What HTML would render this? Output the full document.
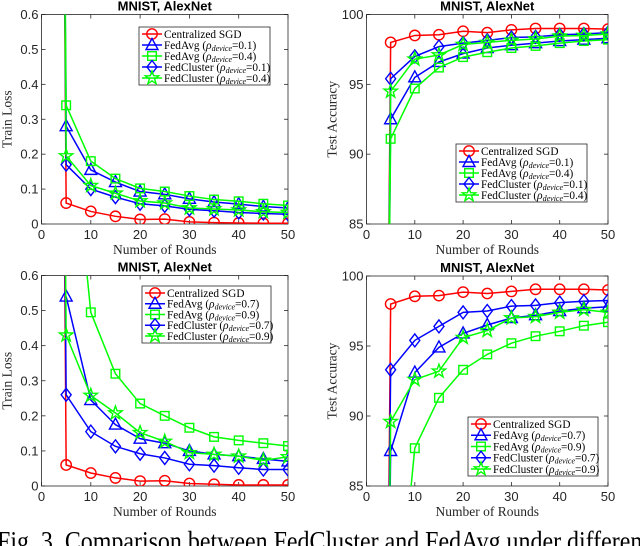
<!DOCTYPE html>
<html><head><meta charset="utf-8">
<style>
html,body{margin:0;padding:0;background:#fff;width:640px;height:546px;overflow:hidden;}
svg{display:block;overflow:hidden;}
.tick{font-family:"Liberation Sans",sans-serif;font-size:13px;fill:#262626;}
.ttl{font-family:"Liberation Sans",sans-serif;font-size:13px;font-weight:bold;fill:#000;}
.lab{font-family:"Liberation Serif",serif;font-size:13.5px;fill:#262626;}
.leg{font-family:"Liberation Serif",serif;font-size:11.3px;fill:#000;}
</style></head>
<body>
<svg id="fig" width="640" height="546" viewBox="0 0 640 546" xmlns="http://www.w3.org/2000/svg">
<text x="-3" y="550" textLength="652" lengthAdjust="spacingAndGlyphs" style="font-family:'Liberation Serif',serif;font-size:27px;fill:#000">Fig. 3.  Comparison between FedCluster and FedAvg under different</text>
</svg>
<script>
const xRounds = [4,5,10,15,20,25,30,35,40,45,50];
// Panel 1: train loss, rho 0.1/0.4
const p1Central = [2,0.06,0.036,0.022,0.013,0.014,0.006,0.004,0.003,0.002,0.002];
const p1FedAvgA = [2,0.28,0.155,0.12,0.093,0.085,0.072,0.063,0.057,0.05,0.046];
const p1FedAvgB = [2,0.34,0.18,0.13,0.102,0.093,0.08,0.07,0.065,0.058,0.053];
const p1FedClA = [2,0.17,0.10,0.077,0.058,0.052,0.042,0.038,0.033,0.03,0.028];
const p1FedClB = [2,0.195,0.11,0.088,0.066,0.06,0.046,0.043,0.04,0.035,0.033];
// Panel 2: test accuracy, rho 0.1/0.4
const p2Central = [60,98.0,98.5,98.55,98.8,98.7,98.9,99.0,99.0,99.0,98.95];
const p2FedAvgA = [60,92.5,95.5,96.6,97.2,97.6,97.8,97.95,98.1,98.2,98.3];
const p2FedAvgB = [60,91.1,94.7,96.2,96.95,97.3,97.6,97.75,97.95,98.1,98.2];
const p2FedClA = [60,95.4,97.0,97.7,97.95,98.15,98.35,98.4,98.55,98.6,98.7];
const p2FedClB = [60,94.5,96.8,97.1,97.85,98.0,98.15,98.25,98.45,98.5,98.6];
// Panel 3: train loss, rho 0.7/0.9
const p3Central = [2,0.06,0.037,0.023,0.014,0.015,0.007,0.005,0.003,0.003,0.003];
const p3FedAvgA = [null,0.54,0.245,0.175,0.135,0.122,0.1,0.09,0.085,0.077,0.07];
const p3FedAvgB = [null,1.2,0.495,0.32,0.235,0.2,0.166,0.14,0.13,0.122,0.114];
const p3FedClA = [2,0.26,0.155,0.113,0.092,0.08,0.062,0.058,0.052,0.047,0.047];
const p3FedClB = [2,0.43,0.258,0.208,0.152,0.127,0.095,0.09,0.085,0.073,0.083];
// Panel 4: test accuracy, rho 0.7/0.9
const p4Central = [60,98.0,98.55,98.6,98.85,98.75,98.9,99.05,99.05,99.05,99.0];
const p4FedAvgA = [60,87.5,93.1,94.9,95.9,96.5,97.0,97.2,97.5,97.7,97.8];
const p4FedAvgB = [null,70,87.7,91.3,93.3,94.4,95.2,95.7,96.05,96.45,96.7];
const p4FedClA = [60,93.3,95.4,96.4,97.4,97.5,97.85,97.9,98.1,98.2,98.25];
const p4FedClB = [60,89.6,92.6,93.2,95.6,96.1,97.0,97.1,97.4,97.6,97.4];
const xTicks = [0,10,20,30,40,50];
const lossTicks = [0,0.1,0.2,0.3,0.4,0.5,0.6];
const lossTickLabels = ["0","0.1","0.2","0.3","0.4","0.5","0.6"];
const accTicks = [85,90,95,100];
const accTickLabels = ["85","90","95","100"];
const rhoTop = ["0.1","0.4"];
const rhoBot = ["0.7","0.9"];

const NS="http://www.w3.org/2000/svg";
const svg=document.getElementById('fig');
function mk(tag,attrs,parent){const e=document.createElementNS(NS,tag);for(const k in attrs)e.setAttribute(k,attrs[k]);(parent||svg).appendChild(e);return e;}

function marker(g,type,cx,cy,color){
  const s=5.2;let e;
  if(type==='circle'){e=mk('circle',{cx:cx,cy:cy,r:s,fill:'none',stroke:color,'stroke-width':1.4},g);}
  else if(type==='square'){e=mk('rect',{x:cx-4.3,y:cy-4.3,width:8.6,height:8.6,fill:'none',stroke:color,'stroke-width':1.4},g);}
  else if(type==='triangle'){e=mk('polygon',{points:`${cx},${cy-6.5} ${cx-6},${cy+4.5} ${cx+6},${cy+4.5}`,fill:'none',stroke:color,'stroke-width':1.4},g);}
  else if(type==='diamond'){e=mk('polygon',{points:`${cx},${cy-6.5} ${cx+5},${cy} ${cx},${cy+6.5} ${cx-5},${cy}`,fill:'none',stroke:color,'stroke-width':1.4},g);}
  else {let p=[];for(let i=0;i<10;i++){const r=i%2?2.8:7;const a=-Math.PI/2+i*Math.PI/5;p.push((cx+r*Math.cos(a)).toFixed(2)+','+(cy+r*Math.sin(a)).toFixed(2));}
    e=mk('polygon',{points:p.join(' '),fill:'none',stroke:color,'stroke-width':1.4},g);}
  
  
}

function panel(id,box,ymin,ymax,yT,yTL,ylabel,series,rhos,legBox){
  const [L,T,R,B]=box;
  const g=mk('g',{});
  
  
  const xs=v=>L+(v-0)/(50-0)*(R-L);
  const ys=v=>B-(v-ymin)/(ymax-ymin)*(B-T);
  const clipId='clip-'+id;
  const cp=mk('clipPath',{id:clipId},g);mk('rect',{x:L,y:T,width:R-L,height:B-T},cp);
  const frame=mk('rect',{x:L,y:T,width:R-L,height:B-T,fill:'#fff',stroke:'#262626','stroke-width':0.8},g);
  
  
  xTicks.forEach(t=>{const x=xs(t);
    mk('line',{x1:x,y1:B,x2:x,y2:B-4,stroke:'#262626','stroke-width':0.8},g);
    mk('line',{x1:x,y1:T,x2:x,y2:T+4,stroke:'#262626','stroke-width':0.8},g);
    const tx=mk('text',{x:x,y:B+15,'text-anchor':'middle',class:'tick'},g);tx.textContent=t;
    
    });
  yT.forEach((t,i)=>{const y=ys(t);
    mk('line',{x1:L,y1:y,x2:L+4,y2:y,stroke:'#262626','stroke-width':0.8},g);
    mk('line',{x1:R,y1:y,x2:R-4,y2:y,stroke:'#262626','stroke-width':0.8},g);
    const tx=mk('text',{x:L-3,y:y+4.5,'text-anchor':'end',class:'tick'},g);tx.textContent=yTL[i];
    
    });
  const tt=mk('text',{x:(L+R)/2,y:T-4,'text-anchor':'middle',class:'ttl'},g);tt.textContent='MNIST, AlexNet';
  
  
  const xl=mk('text',{x:(L+R)/2,y:B+30,'text-anchor':'middle',class:'lab'},g);xl.textContent='Number of Rounds';
  
  
  const yx=L-30,yy=(T+B)/2;
  const yl=mk('text',{x:yx,y:yy,'text-anchor':'middle',class:'lab',transform:`rotate(-90 ${yx} ${yy})`},g);yl.textContent=ylabel;
  
  
  const pg=mk('g',{'clip-path':`url(#${clipId})`},g);
  series.forEach(s=>{
    const sg=mk('g',{},pg);
    
    
    const pts=[];xRounds.forEach((x,i)=>{if(s.v[i]!==null)pts.push([xs(x),ys(s.v[i])]);});
    const pl=mk('polyline',{points:pts.map(p=>p[0].toFixed(2)+','+p[1].toFixed(2)).join(' '),fill:'none',stroke:s.c,'stroke-width':1.5},sg);
    
    
    xRounds.forEach((x,i)=>{if(x>=5&&s.v[i]!==null)marker(sg,s.m,xs(x),ys(s.v[i]),s.c);});
  });
  const [lx,ly,lw,lh]=legBox;
  const lg=mk('g',{},g);
  
  
  mk('rect',{x:lx,y:ly,width:lw,height:lh,fill:'#fff',stroke:'#262626','stroke-width':0.8},lg);
  const labels=[['Centralized SGD',null],['FedAvg (',rhos[0]],['FedAvg (',rhos[1]],['FedCluster (',rhos[0]],['FedCluster (',rhos[1]]];
  series.forEach((s,i)=>{
    const eg=mk('g',{},lg);
    
    
    const y=ly+7+i*(lh-14)/4;
    mk('line',{x1:lx+3,y1:y,x2:lx+23,y2:y,stroke:s.c,'stroke-width':1.5},eg);
    marker(eg,s.m,lx+13,y,s.c);
    const t=mk('text',{x:lx+25,y:y+3.8,class:'leg'},eg);
    if(labels[i][1]===null){t.textContent=labels[i][0];}
    else{
      const a=mk('tspan',{},t);a.textContent=labels[i][0];
      const b=mk('tspan',{'font-style':'italic'},t);b.textContent='ρ';
      const c=mk('tspan',{'font-style':'italic','font-size':'8px',dy:'2'},t);c.textContent='device';
      const d=mk('tspan',{dy:'-2'},t);d.textContent='='+labels[i][1]+')';
    }
  });
}
function ser(a,b,c,d,e){return[
  {key:'centralized-sgd',v:a,c:'#ff0000',m:'circle'},
  {key:'fedavg-a',v:b,c:'#0000ff',m:'triangle'},
  {key:'fedavg-b',v:c,c:'#00ff00',m:'square'},
  {key:'fedcluster-a',v:d,c:'#0000ff',m:'diamond'},
  {key:'fedcluster-b',v:e,c:'#00ff00',m:'star'}];}
panel('panel-loss-top',[41.5,14.5,288,224],0,0.6,lossTicks,lossTickLabels,'Train Loss',ser(p1Central,p1FedAvgA,p1FedAvgB,p1FedClA,p1FedClB),rhoTop,[139,27,131,58]);
panel('panel-acc-top',[366.5,14.5,608,224],85,100,accTicks,accTickLabels,'Test Accuracy',ser(p2Central,p2FedAvgA,p2FedAvgB,p2FedClA,p2FedClB),rhoTop,[456,144,131,58]);
panel('panel-loss-bottom',[41.5,275.5,288,486],0,0.6,lossTicks,lossTickLabels,'Train Loss',ser(p3Central,p3FedAvgA,p3FedAvgB,p3FedClA,p3FedClB),rhoBot,[142,286,129,57]);
panel('panel-acc-bottom',[366.5,276,608,486],85,100,accTicks,accTickLabels,'Test Accuracy',ser(p4Central,p4FedAvgA,p4FedAvgB,p4FedClA,p4FedClB),rhoBot,[468,417,130,59]);
</script>
</body></html>
